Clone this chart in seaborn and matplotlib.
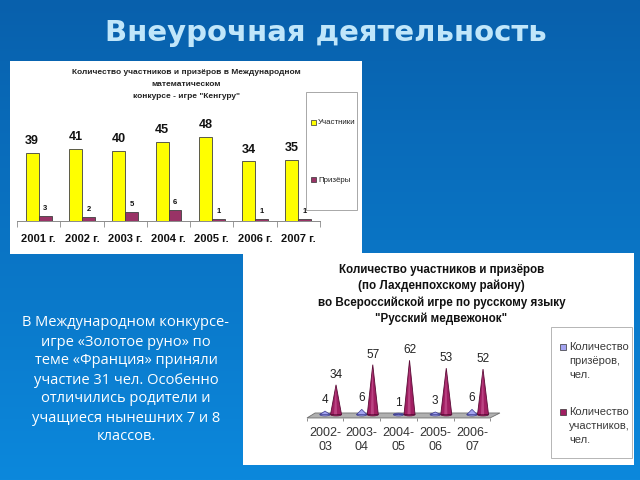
import numpy as np
import pandas as pd
import matplotlib
matplotlib.use('Agg')
import matplotlib.pyplot as plt
import seaborn as sns
from matplotlib.patches import Rectangle, Polygon, Ellipse

# ---------------- data ----------------
main_title = 'Внеурочная деятельность'

kangaroo_years = ['2001 г.', '2002 г.', '2003 г.', '2004 г.', '2005 г.', '2006 г.', '2007 г.']
kangaroo_participants = [39, 41, 40, 45, 48, 34, 35]
kangaroo_winners = [3, 2, 5, 6, 1, 1, 1]
kangaroo_series = ['Участники', 'Призёры']
kangaroo_title = ['Количество участников и призёров в Международном',
                  'математическом',
                  'конкурсе - игре "Кенгуру"']

bear_seasons = ['2002-\n03', '2003-\n04', '2004-\n05', '2005-\n06', '2006-\n07']
bear_winners = [4, 6, 1, 3, 6]
bear_participants = [34, 57, 62, 53, 52]
bear_legend = [['Количество', 'призёров,', 'чел.'],
               ['Количество', 'участников,', 'чел.']]
bear_title = ['Количество участников и призёров',
              '(по Лахденпохскому району)',
              'во Всероссийской игре по русскому языку',
              '"Русский медвежонок"']

side_text = ['В Международном конкурсе-',
             'игре «Золотое руно» по',
             'теме «Франция» приняли',
             'участие 31 чел. Особенно',
             'отличились родители и',
             'учащиеся нынешних 7 и 8',
             'классов.']

plt.rcParams['font.family'] = ['Liberation Sans', 'DejaVu Sans']

W, H = 640, 480
fig = plt.figure(figsize=(6.4, 4.8), dpi=100)


def fx(x):
    return x / W


def fy(y):
    return 1 - y / H


def rect(x0, y0, x1, y1):
    return [x0 / W, 1 - y1 / H, (x1 - x0) / W, (y1 - y0) / H]


def clean(ax):
    ax.set_xticks([])
    ax.set_yticks([])
    for s in ax.spines.values():
        s.set_visible(False)


# ---------------- background ----------------
bg = fig.add_axes([0, 0, 1, 1])
bg.axis('off')
t = np.linspace(0, 1, 256)[:, None, None]
top = np.array([8, 96, 172]) / 255
bot = np.array([12, 136, 220]) / 255
grad = top + (bot - top) * t
grad = np.repeat(grad, 2, axis=1)
bg.imshow(grad, aspect='auto', extent=[0, 1, 0, 1])
bg.set_xlim(0, 1)
bg.set_ylim(0, 1)

# white panels
p1 = fig.add_axes(rect(10, 61, 362, 254))
clean(p1)
p1.set_facecolor('white')
p2 = fig.add_axes(rect(243, 253, 634, 465))
clean(p2)
p2.set_facecolor('white')

# ---------------- chart 1: Kangaroo ----------------
yellow = '#ffff00'
plum = '#993366'
ax1 = fig.add_axes(rect(17, 110, 320, 221))
ax1.patch.set_alpha(0)
df1 = pd.DataFrame({
    'year': kangaroo_years * 2,
    'series': [kangaroo_series[0]] * len(kangaroo_years) + [kangaroo_series[1]] * len(kangaroo_years),
    'value': kangaroo_participants + kangaroo_winners,
})
sns.barplot(data=df1, x='year', y='value', hue='series', palette=[yellow, plum],
            width=0.6, saturation=1, edgecolor='#404040', linewidth=0.6,
            ax=ax1, legend=False)
ax1.set_xlim(-0.5, 6.5)
ax1.set_ylim(0, 111 / 1.755)
for cont, fs, pad in zip(ax1.containers, [9, 5.5], [4.0, 3.0]):
    ax1.bar_label(cont, fontsize=fs, fontweight='bold', padding=pad, color='#111111')
ax1.set_xlabel('')
ax1.set_ylabel('')
ax1.set_yticks([])
for s in ['top', 'left', 'right']:
    ax1.spines[s].set_visible(False)
ax1.spines['bottom'].set_color('#8a8a8a')
ax1.spines['bottom'].set_linewidth(0.7)
ax1.set_xticks(np.arange(-0.5, 7, 1), minor=True)
ax1.tick_params(axis='x', which='major', length=0, pad=9, labelsize=8, labelcolor='#111111')
ax1.tick_params(axis='x', which='minor', length=4, width=0.6, color='#8a8a8a', direction='out')
for lab in ax1.get_xticklabels():
    lab.set_fontweight('bold')

for i, line in enumerate(kangaroo_title):
    fig.text(fx(186.5), fy(73 + 12 * i), line, fontsize=6, fontweight='bold',
             ha='center', va='center', color='#222222')

# legend 1
fig.add_artist(Rectangle((fx(306), fy(210)), 51 / W, 118 / H, transform=fig.transFigure,
                         fc='white', ec='#9a9a9a', lw=0.6))
for (yy, col, lab) in [(122, yellow, kangaroo_series[0]), (180, plum, kangaroo_series[1])]:
    fig.add_artist(Rectangle((fx(310.5), fy(yy + 2.5)), 5 / W, 5 / H, transform=fig.transFigure,
                             fc=col, ec='#333333', lw=0.5))
    fig.text(fx(318), fy(yy), lab, fontsize=5.7, ha='left', va='center', color='#222222')

# ---------------- chart 2: Russian bear ----------------
lav = '#a3a3f0'
lav_edge = '#3c3c8c'
pur = '#a01f62'
pur_edge = '#5a0c36'
sx = 36.75
sy = 0.875
ax2 = fig.add_axes(rect(295, 340, 510, 415))
ax2.patch.set_alpha(0)
clean(ax2)
ax2.set_xlim((295 - 325) / sx, (510 - 325) / sx)
ax2.set_ylim(0, 75 / sy)

ax2.add_patch(Polygon([(-0.49, -3.4), (4.49, -3.4), (4.76, 2.3), (-0.27, 2.3)], closed=True,
                      fc='#b0b0b0', ec='#6e6e6e', lw=0.6, clip_on=False, zorder=1))
ax2.vlines(np.arange(-0.5, 5, 1), -7.0, -3.4, color='#7a7a7a', lw=0.6, clip_on=False, zorder=1)

xs = np.arange(len(bear_seasons))
for i, v in enumerate(bear_winners):
    c = xs[i]
    hw = 0.14
    ax2.add_patch(Ellipse((c, 0.5), 2 * hw, 3.2, fc=lav, ec=lav_edge, lw=0.5, zorder=2, clip_on=False))
    ax2.add_patch(Polygon([(c - hw, 0.5), (c, 0.5 + v), (c + hw, 0.5)], closed=True,
                          fc=lav, ec=lav_edge, lw=0.5, zorder=3, clip_on=False))
    ax2.annotate(str(v), (c, 0.5 + v), xytext=(0, 3.5), textcoords='offset points',
                 ha='center', va='bottom', fontsize=8.5, color='#222222')
for i, v in enumerate(bear_participants):
    c = xs[i] + 0.3
    hw = 0.15
    ax2.add_patch(Ellipse((c, 0.5), 2 * hw, 3.2, fc=pur, ec=pur_edge, lw=0.5, zorder=4, clip_on=False))
    ax2.add_patch(Polygon([(c - hw, 0.5), (c, 0.5 + v), (c + hw, 0.5)], closed=True,
                          fc=pur, ec=pur_edge, lw=0.6, zorder=5, clip_on=False))
    ax2.add_patch(Polygon([(c - 0.055, 0.8), (c - 0.004, 0.5 + v * 0.96), (c + 0.03, 0.8)], closed=True,
                          fc='#c4508e', ec='none', alpha=0.75, zorder=6, clip_on=False))
    ax2.annotate(str(v), (c, 0.5 + v), xytext=(0, 3), textcoords='offset points',
                 ha='center', va='bottom', fontsize=8.5, color='#222222')

ax2.set_xticks(xs)
ax2.set_xticklabels(bear_seasons, fontsize=9, color='#333333', linespacing=1.15)
ax2.tick_params(axis='x', length=0, pad=9)

for i, line in enumerate(bear_title):
    fig.text(fx(441.5), fy(270 + 16.2 * i), line, fontsize=8.4, fontweight='bold',
             ha='center', va='center', color='#111111')

# legend 2
fig.add_artist(Rectangle((fx(551), fy(458)), 81 / W, 131 / H, transform=fig.transFigure,
                         fc='white', ec='#aaaaaa', lw=0.6))
for (yy, col, ec, lines) in [(347, lav, lav_edge, bear_legend[0]), (412, pur, pur_edge, bear_legend[1])]:
    fig.add_artist(Rectangle((fx(560), fy(yy + 3)), 6 / W, 6 / H, transform=fig.transFigure,
                             fc=col, ec='#333333', lw=0.5))
    for k, ln in enumerate(lines):
        fig.text(fx(569), fy(yy + 14 * k), ln, fontsize=8, ha='left', va='center', color='#3a3a3a')

# ---------------- side text ----------------
for i, line in enumerate(side_text):
    fig.text(fx(126), fy(323 + 19 * i), line, fontsize=10.5, ha='center', va='center',
             color='white', family=['Open Sans', 'DejaVu Sans'])

# ---------------- main title ----------------
fig.text(fx(326), fy(33), main_title, fontsize=21, fontweight='bold', ha='center', va='center',
         color='#c0e6fa', family=['DejaVu Sans'])

fig.savefig('out.png', dpi=100)
